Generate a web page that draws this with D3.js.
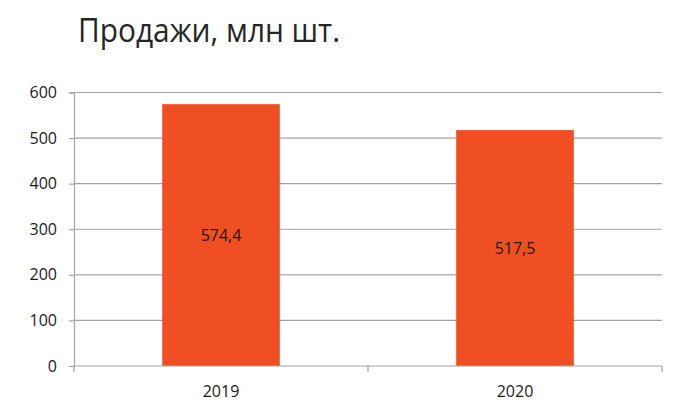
<!DOCTYPE html>
<html>
<head>
<meta charset="utf-8">
<script src="https://cdn.jsdelivr.net/npm/d3@7"></script>
<style>
  body { margin: 0; background: #fff; }
  svg { display: block; font-family: "Open Sans", sans-serif; }
</style>
</head>
<body>
<svg id="chart" width="700" height="419"></svg>
<script>
const title = "Продажи, млн шт.";
const years = ["2019", "2020"];
const sales = [574.4, 517.5];
const yTicks = [0, 100, 200, 300, 400, 500, 600];

const svg = d3.select("#chart");
const margin = { top: 92.5, right: 38, bottom: 53, left: 74 },
  width = 700 - margin.left - margin.right,
  height = 419 - margin.top - margin.bottom;

const fmt = d3.format(".1f");
const gridColor = "#a3a3a3";

// title
svg.append("text")
  .attr("x", 78)
  .attr("y", 42)
  .attr("font-size", 32)
  .attr("fill", "#262626")
  .attr("textLength", 262)
  .attr("lengthAdjust", "spacingAndGlyphs")
  .text(title);

const g = svg.append("g")
  .attr("transform", "translate(" + margin.left + "," + margin.top + ")");

const x = d3.scaleBand()
  .domain(years)
  .range([0, width])
  .paddingInner(0.6)
  .paddingOuter(0.3);

const xCat = d3.scaleBand().domain(years).range([0, width]);

const y = d3.scaleLinear().domain([0, 600]).range([height, 0]);

// gridlines
g.append("g")
  .selectAll("line")
  .data(yTicks.slice(1))
  .join("line")
  .attr("x1", 0)
  .attr("x2", width)
  .attr("y1", d => y(d))
  .attr("y2", d => y(d))
  .attr("stroke", gridColor)
  .attr("stroke-width", 1.2);

// y axis
const yAxis = g.append("g")
  .call(d3.axisLeft(y).tickValues(yTicks).tickSize(5).tickPadding(12).tickFormat(d3.format("d")));
yAxis.select(".domain").attr("stroke", gridColor).attr("stroke-width", 1.2);
yAxis.selectAll(".tick line").attr("stroke", gridColor).attr("stroke-width", 1.2);
yAxis.selectAll("text").attr("font-size", 16).attr("fill", "#1a1a1a")
  .attr("font-family", "Open Sans, sans-serif");

// bars
g.selectAll(".bar")
  .data(sales)
  .join("rect")
  .attr("class", "bar")
  .attr("x", (d, i) => x(years[i]))
  .attr("y", d => y(d))
  .attr("width", x.bandwidth())
  .attr("height", d => height - y(d))
  .attr("fill", "#f04e23");

// x axis (category boundaries as ticks)
const xAxisG = g.append("g").attr("transform", "translate(0," + height + ")");
xAxisG.append("line")
  .attr("x1", 0).attr("x2", width)
  .attr("stroke", gridColor).attr("stroke-width", 1.2);
xAxisG.selectAll(".xtick")
  .data(years.concat(["end"]))
  .join("line")
  .attr("class", "xtick")
  .attr("x1", (d, i) => i < years.length ? xCat(d) : width)
  .attr("x2", (d, i) => i < years.length ? xCat(d) : width)
  .attr("y1", 0)
  .attr("y2", 6)
  .attr("stroke", gridColor)
  .attr("stroke-width", 1.2);
xAxisG.selectAll(".xlabel")
  .data(years)
  .join("text")
  .attr("class", "xlabel")
  .attr("x", d => x(d) + x.bandwidth() / 2)
  .attr("y", 31)
  .attr("text-anchor", "middle")
  .attr("font-size", 16)
  .attr("fill", "#1a1a1a")
  .text(d => d);

// value labels
g.selectAll(".val")
  .data(sales)
  .join("text")
  .attr("class", "val")
  .attr("x", (d, i) => x(years[i]) + x.bandwidth() / 2)
  .attr("y", d => (y(d) + height) / 2)
  .attr("dy", "0.35em")
  .attr("text-anchor", "middle")
  .attr("font-size", 16)
  .attr("fill", "#1a1a1a")
  .text(d => fmt(d).replace(".", ","));
</script>
</body>
</html>
